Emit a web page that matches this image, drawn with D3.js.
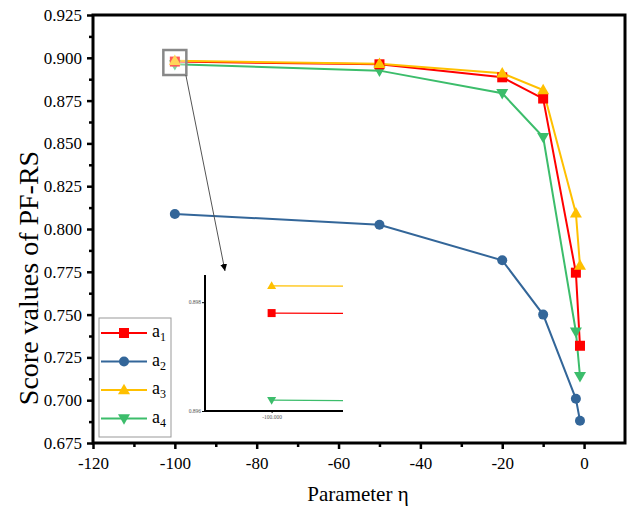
<!DOCTYPE html>
<html><head><meta charset="utf-8">
<script src="https://cdn.jsdelivr.net/npm/d3@7"></script>
<style>body{margin:0;background:#fff}svg{display:block}text{font-family:"Liberation Serif","Times New Roman",serif}</style>
</head><body><svg id="c" width="630" height="511"></svg>
<script>
const etaValues = [-100, -50, -20, -10, -2, -1];
const a1 = [0.8978, 0.8962, 0.8886, 0.8762, 0.7745, 0.7318];
const a2 = [0.8088, 0.8025, 0.7817, 0.7500, 0.7008, 0.6880];
const a3 = [0.8983, 0.8965, 0.8910, 0.8812, 0.8092, 0.7786];
const a4 = [0.8962, 0.8925, 0.8793, 0.8537, 0.7400, 0.7140];
const seriesNames = ["a1", "a2", "a3", "a4"];
const seriesColors = ["#ff0000", "#336699", "#ffc000", "#3cbd6b"];
const seriesShapes = ["square", "circle", "triangle", "triangleDown"];
const yTicks = [0.675, 0.700, 0.725, 0.750, 0.775, 0.800, 0.825, 0.850, 0.875, 0.900, 0.925];
const xTicks = [-120, -100, -80, -60, -40, -20, 0];
const insetYTicks = [0.896, 0.898];
const insetXTicks = [-100];

const series = [a1, a2, a3, a4].map((v, i) => ({name: seriesNames[i], color: seriesColors[i], shape: seriesShapes[i],
  pts: etaValues.map((x, j) => ({x, y: v[j]}))}));

const svg = d3.select("#c");
const L = 93, R = 625, T = 15, B = 443;
const x = d3.scaleLinear().domain([-120, 10]).range([L, R]);
const y = d3.scaleLinear().domain([0.675, 0.925]).range([B, T]);

function marker(sel, shape, color, s) {
  if (shape === "square") sel.append("rect").attr("x", -s/2).attr("y", -s/2).attr("width", s).attr("height", s).attr("fill", color);
  else if (shape === "circle") sel.append("circle").attr("r", s/2).attr("fill", color);
  else if (shape === "triangle") { const h = s*0.87; sel.append("path").attr("d", `M0,${-h*0.6}L${s/2},${h*0.4}L${-s/2},${h*0.4}Z`).attr("fill", color); }
  else { const h = s*0.87; sel.append("path").attr("d", `M0,${h*0.6}L${s/2},${-h*0.4}L${-s/2},${-h*0.4}Z`).attr("fill", color); }
}

// axes
const ax = svg.append("g");
ax.append("g").attr("transform", `translate(0,${B})`)
  .call(d3.axisBottom(x).tickValues(xTicks).tickSize(6).tickFormat(d => String(d)))
  .call(g => { g.select(".domain").remove(); g.selectAll("line").attr("stroke-width", 2.5);
    g.selectAll("text").attr("font-size", 17).attr("fill", "#000").attr("dy", "1.0em"); });
ax.append("g").attr("transform", `translate(0,${B})`)
  .call(d3.axisBottom(x).tickValues(d3.range(-110, 10, 20)).tickSize(4).tickFormat(""))
  .call(g => { g.select(".domain").remove(); g.selectAll("line").attr("stroke-width", 2.5); });
ax.append("g").attr("transform", `translate(${L},0)`)
  .call(d3.axisLeft(y).tickValues(yTicks).tickSize(6).tickFormat(d3.format(".3f")))
  .call(g => { g.select(".domain").remove(); g.selectAll("line").attr("stroke-width", 2.5);
    g.selectAll("text").attr("font-size", 17).attr("fill", "#000").attr("x", -11); });
ax.append("g").attr("transform", `translate(${L},0)`)
  .call(d3.axisLeft(y).tickValues(d3.range(0.6875, 0.925, 0.025)).tickSize(4).tickFormat(""))
  .call(g => { g.select(".domain").remove(); g.selectAll("line").attr("stroke-width", 2.5); });
svg.append("rect").attr("x", L).attr("y", T).attr("width", R - L).attr("height", B - T)
  .attr("fill", "none").attr("stroke", "#000").attr("stroke-width", 3);

svg.append("text").attr("x", 358).attr("y", 501).attr("text-anchor", "middle").attr("font-size", 21).text("Parameter η");
svg.append("text").attr("transform", `translate(38,278) rotate(-90)`).attr("text-anchor", "middle").attr("font-size", 28).text("Score values of PF-RS");

// series
const line = d3.line().x(d => x(d.x)).y(d => y(d.y));
const order = [1, 3, 0, 2];
order.forEach(i => {
  const s = series[i];
  svg.append("path").datum(s.pts).attr("d", line).attr("fill", "none").attr("stroke", s.color).attr("stroke-width", 2);
});
order.forEach(i => {
  const s = series[i];
  s.pts.forEach(p => {
    const g = svg.append("g").attr("transform", `translate(${x(p.x)},${y(p.y)})`);
    marker(g, s.shape, s.color, s.shape === "circle" ? 10 : (s.shape === "square" ? 10 : 12));
  });
});

// zoom box & arrow
const bx = x(-100), by = (y(0.8983) + y(0.8962)) / 2;
svg.append("rect").attr("x", bx - 11.5).attr("y", by - 12.5).attr("width", 23).attr("height", 25)
  .attr("fill", "rgba(255,255,255,0.35)").attr("stroke", "#888").attr("stroke-width", 2.5);
svg.append("defs").append("marker").attr("id", "ah").attr("viewBox", "0 0 10 10").attr("refX", 10).attr("refY", 5)
  .attr("markerWidth", 7).attr("markerHeight", 9).attr("orient", "auto").attr("markerUnits", "userSpaceOnUse")
  .append("path").attr("d", "M0,0L10,5L0,10Z").attr("fill", "#000");
svg.append("line").attr("x1", bx + 11).attr("y1", by + 12.5).attr("x2", 225).attr("y2", 271)
  .attr("stroke", "#555").attr("stroke-width", 1).attr("marker-end", "url(#ah)");

// inset
const iL = 205, iR = 343, iT = 275, iB = 411;
const ix = d3.scaleLinear().domain([-100.14, -99.85]).range([iL, iR]);
const iy = d3.scaleLinear().domain([0.896, 0.8985]).range([iB, iT]);
const inset = svg.append("g");
inset.append("defs").append("clipPath").attr("id", "iclip").append("rect").attr("x", iL).attr("y", iT).attr("width", iR - iL).attr("height", iB - iT + 2);
const iline = d3.line().x(d => ix(d.x)).y(d => iy(d.y));
const ig = inset.append("g").attr("clip-path", "url(#iclip)");
[0, 2, 3].forEach(i => {
  const s = series[i];
  ig.append("path").datum(s.pts.slice(0, 2)).attr("d", iline).attr("fill", "none").attr("stroke", s.color).attr("stroke-width", 1.3);
  const p = s.pts[0];
  const g = ig.append("g").attr("transform", `translate(${ix(p.x)},${iy(p.y)})`);
  marker(g, s.shape, s.color, s.shape === "square" ? 8 : 9);
});
inset.append("g").attr("transform", `translate(${iL},0)`)
  .call(d3.axisLeft(iy).tickValues(insetYTicks).tickSize(3).tickFormat(d3.format(".3f")))
  .call(g => { g.select(".domain").attr("stroke-width", 2).attr("d", `M0,${iT}V${iB+1}`);
    g.selectAll("text").attr("font-size", 5.5).attr("fill", "#555").attr("x", -4); });
inset.append("g").attr("transform", `translate(0,${iB})`)
  .call(d3.axisBottom(ix).tickValues(insetXTicks).tickSize(2).tickFormat(d => d.toFixed(3)))
  .call(g => { g.select(".domain").attr("stroke-width", 2).attr("d", `M${iL},0H${iR}`);
    g.selectAll("text").attr("font-size", 5.5).attr("fill", "#555").attr("dy", "0.5em"); });

// legend
const lg = svg.append("g");
lg.append("rect").attr("x", 99).attr("y", 318).attr("width", 72).attr("height", 119).attr("fill", "#fff").attr("stroke", "#999").attr("stroke-width", 1);
series.forEach((s, i) => {
  const yy = 333 + i * 28.5;
  lg.append("line").attr("x1", 101).attr("x2", 147).attr("y1", yy).attr("y2", yy).attr("stroke", s.color).attr("stroke-width", 2);
  marker(lg.append("g").attr("transform", `translate(124,${yy})`), s.shape, s.color, s.shape === "circle" ? 10 : (s.shape === "square" ? 10 : 12));
  const t = lg.append("text").attr("x", 152).attr("y", yy + 4).attr("font-size", 18).text(s.name[0]);
  t.append("tspan").attr("font-size", 12).attr("dy", 4).text(s.name.slice(1));
});
</script></body></html>
